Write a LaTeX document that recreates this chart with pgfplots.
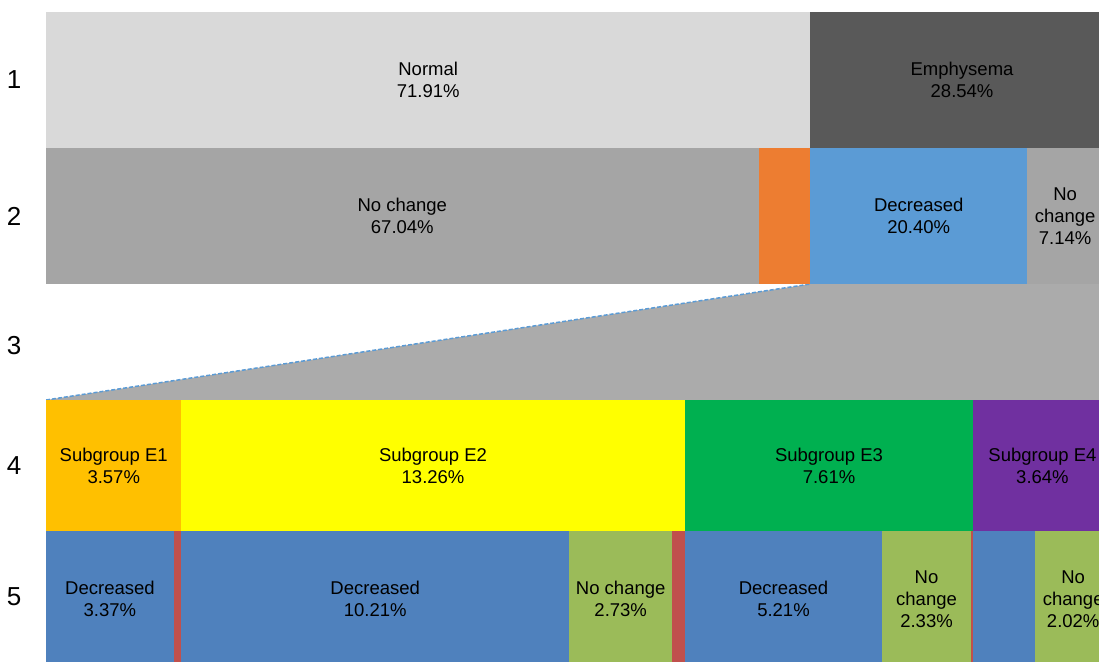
\documentclass[border=0pt]{standalone}
\usepackage{fontspec}
\setmainfont{Liberation Sans}
\usepackage{pgfplots}
\pgfplotsset{compat=1.18}

\definecolor{cNormal}{HTML}{D9D9D9}
\definecolor{cEmph}{HTML}{595959}
\definecolor{cNoChg}{HTML}{A5A5A5}
\definecolor{cInc}{HTML}{ED7D31}
\definecolor{cDec}{HTML}{5B9BD5}
\definecolor{cFunnel}{HTML}{ABABAB}
\definecolor{cE1}{HTML}{FFC000}
\definecolor{cE2}{HTML}{FFFF00}
\definecolor{cE3}{HTML}{00B050}
\definecolor{cE4}{HTML}{7030A0}
\definecolor{cSubDec}{HTML}{4F81BD}
\definecolor{cSubInc}{HTML}{C0504D}
\definecolor{cSubNo}{HTML}{9BBB59}

\pgfplotsset{
  rowaxis/.style={
    scale only axis, width=1053pt, anchor=north west,
    xmin=0, xtick=\empty,
    axis line style={draw=none}, tick style={draw=none},
    yticklabel style={anchor=center, xshift=-32pt, font=\fontsize{26}{30}\selectfont},
  },
  rowbar/.style={
    rowaxis, xbar stacked, bar width=1, bar shift=0,
    ymin=0.5, ymax=1.5, ytick={1},
  },
  % same frame as a row, only for the data labels (drawn over the bars)
  labaxis/.style={
    scale only axis, width=1053pt, anchor=north west,
    xmin=0, ymin=0.5, ymax=1.5, hide axis, clip=false,
  },
}
\tikzset{lab/.style={align=center, font=\fontsize{18.5}{22}\selectfont, text=black}}

\begin{document}
\begin{tikzpicture}
\path[use as bounding box] (0,0) rectangle (1099pt,-662pt);

% row 1
\begin{axis}[rowbar, at={(46pt,-12pt)}, height=136pt, xmax=99.06, yticklabels={1}]
\addplot+[fill=cNormal, draw=none] coordinates {(71.91,1)};
\addplot+[fill=cEmph, draw=none] coordinates {(28.54,1)};
\end{axis}
\begin{axis}[labaxis, at={(46pt,-12pt)}, height=136pt, xmax=99.06]
\node[lab] at (axis cs:35.955,1) {Normal\\71.91\%};
\node[lab] at (axis cs:86.18,1) {Emphysema\\28.54\%};
\end{axis}

% row 2
\begin{axis}[rowbar, at={(46pt,-148pt)}, height=136pt, xmax=99.06, yticklabels={2}]
\addplot+[fill=cNoChg, draw=none] coordinates {(67.04,1)};
\addplot+[fill=cInc, draw=none] coordinates {(4.87,1)};
\addplot+[fill=cDec, draw=none] coordinates {(20.40,1)};
\addplot+[fill=cNoChg, draw=none] coordinates {(7.14,1)};
\end{axis}
\begin{axis}[labaxis, at={(46pt,-148pt)}, height=136pt, xmax=99.06]
\node[lab] at (axis cs:33.52,1) {No change\\67.04\%};
\node[lab] at (axis cs:82.11,1) {Decreased\\20.40\%};
\node[lab] at (axis cs:95.88,1) {No\\change\\7.14\%};
\end{axis}

% row 3: zoom funnel
\begin{axis}[rowaxis, at={(46pt,-284pt)}, height=116pt, xmax=99.06,
  ymin=0, ymax=1, ytick={0.47}, yticklabels={3}]
\addplot[fill=cFunnel, draw=none] coordinates {(0,0) (71.91,1) (110,1) (110,0)} --cycle;
\addplot[cDec, line width=1.5pt, dash pattern=on 4pt off 2pt] coordinates {(0,0) (71.91,1)};
\end{axis}

% row 4
\begin{axis}[rowbar, at={(46pt,-400pt)}, height=131pt, xmax=27.75, yticklabels={4}]
\addplot+[fill=cE1, draw=none] coordinates {(3.57,1)};
\addplot+[fill=cE2, draw=none] coordinates {(13.26,1)};
\addplot+[fill=cE3, draw=none] coordinates {(7.61,1)};
\addplot+[fill=cE4, draw=none] coordinates {(3.64,1)};
\end{axis}
\begin{axis}[labaxis, at={(46pt,-400pt)}, height=131pt, xmax=27.75]
\node[lab] at (axis cs:1.785,1) {Subgroup E1\\3.57\%};
\node[lab] at (axis cs:10.20,1) {Subgroup E2\\13.26\%};
\node[lab] at (axis cs:20.635,1) {Subgroup E3\\7.61\%};
\node[lab] at (axis cs:26.26,1) {Subgroup E4\\3.64\%};
\end{axis}

% row 5
\begin{axis}[rowbar, at={(46pt,-531pt)}, height=131pt, xmax=27.75, yticklabels={5}]
\addplot+[fill=cSubDec, draw=none] coordinates {(3.37,1)};
\addplot+[fill=cSubInc, draw=none] coordinates {(0.20,1)};
\addplot+[fill=cSubDec, draw=none] coordinates {(10.21,1)};
\addplot+[fill=cSubNo, draw=none] coordinates {(2.73,1)};
\addplot+[fill=cSubInc, draw=none] coordinates {(0.32,1)};
\addplot+[fill=cSubDec, draw=none] coordinates {(5.21,1)};
\addplot+[fill=cSubNo, draw=none] coordinates {(2.33,1)};
\addplot+[fill=cSubInc, draw=none] coordinates {(0.07,1)};
\addplot+[fill=cSubDec, draw=none] coordinates {(1.62,1)};
\addplot+[fill=cSubNo, draw=none] coordinates {(2.02,1)};
\end{axis}
\begin{axis}[labaxis, at={(46pt,-531pt)}, height=131pt, xmax=27.75]
\tikzset{every node/.append style={yshift=-2.5pt}}
\node[lab] at (axis cs:1.685,1) {Decreased\\3.37\%};
\node[lab] at (axis cs:8.675,1) {Decreased\\10.21\%};
\node[lab] at (axis cs:15.145,1) {No change\\2.73\%};
\node[lab] at (axis cs:19.435,1) {Decreased\\5.21\%};
\node[lab] at (axis cs:23.205,1) {No\\change\\2.33\%};
\node[lab] at (axis cs:27.07,1) {No\\change\\2.02\%};
\end{axis}
\end{tikzpicture}
\end{document}
